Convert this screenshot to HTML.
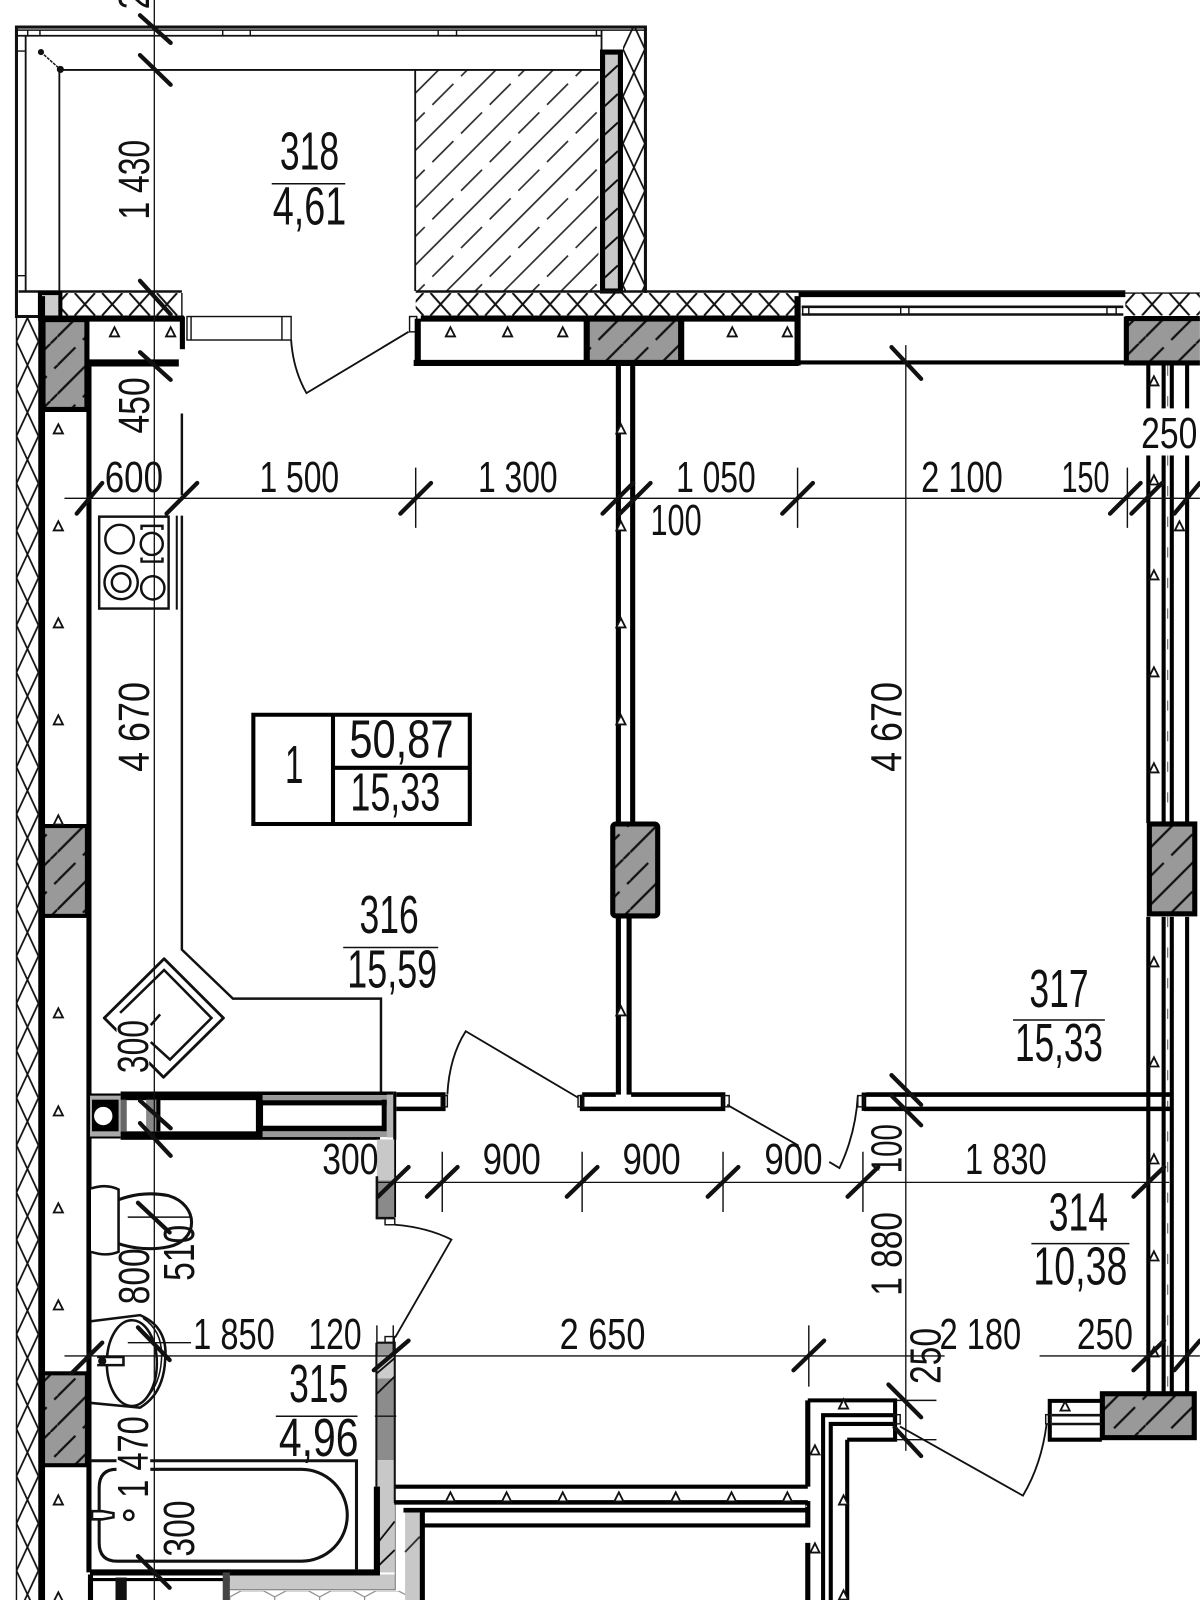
<!DOCTYPE html>
<html><head><meta charset="utf-8"><style>
html,body{margin:0;padding:0;background:#fff;width:1200px;height:1600px;overflow:hidden}
svg{display:block}
text{font-family:"Liberation Sans",sans-serif;fill:#111;text-anchor:middle}
.d{font-size:43px}
.r{font-size:53px}
.t{stroke:#111;stroke-width:4.2;stroke-linecap:round}
.f{stroke:#111;stroke-width:1.4;fill:none}
.m{stroke:#111;stroke-width:2.4;fill:none}
.hs{stroke:#333;stroke-width:1.7}
.hd{stroke:#333;stroke-width:1.7;stroke-dasharray:29.1 10.6}
</style></head><body>
<svg xmlns="http://www.w3.org/2000/svg" width="1200" height="1600" viewBox="0 0 1175 1567">
<defs>
<pattern id="xv" patternUnits="userSpaceOnUse" x="16" y="10.4" width="21.5" height="46.3"><path d="M0 0L21.5 46.3M21.5 0L0 46.3" stroke="#111" stroke-width="1.7"/></pattern>
<pattern id="xr" patternUnits="userSpaceOnUse" x="610" y="1.75" width="21.5" height="46.3"><path d="M0 0L21.5 46.3M21.5 0L0 46.3" stroke="#111" stroke-width="1.7"/></pattern>
<pattern id="xh" patternUnits="userSpaceOnUse" x="42.8" y="287" width="26.8" height="22"><path d="M3.500 0L23.300 22M23.300 0L3.500 22" stroke="#111" stroke-width="2"/></pattern>
<pattern id="hc" patternUnits="userSpaceOnUse" width="56.1" height="56.1"><rect width="56.1" height="56.1" fill="#999"/><path d="M0 49.3L49.3 0M49.3 56.1L56.1 49.3M-3 24.25L17.6 3.65M25 52.35L45.6 31.75M53 24.35L56.1 21.25" stroke="#111" stroke-width="2.2"/></pattern>
<pattern id="hex" patternUnits="userSpaceOnUse" x="225" y="1558" width="44" height="30"><path d="M0 6L11 0H33L44 6M11 0L0 -6M0 6V20M44 6V20" stroke="#777" stroke-width="1" fill="none"/></pattern>
<clipPath id="cb"><rect x="407" y="68.500" width="179" height="217"/></clipPath>
<g id="tri"><path d="M-4.500 4.500L0 -4.500L4.500 4.500Z" fill="#fff" stroke="#111" stroke-width="1.8"/></g>
</defs>
<rect width="1175" height="1567" fill="#fff"/>

<!-- hatching bands -->
<rect x="16" y="310" width="21.500" height="1257" fill="url(#xv)"/>
<rect x="610" y="27" width="21.500" height="259" fill="url(#xr)"/>
<rect x="44" y="287" width="134" height="22" fill="url(#xh)"/>
<rect x="407" y="287" width="375" height="22" fill="url(#xh)"/>
<rect x="1102" y="287" width="73" height="22" fill="url(#xh)"/>
<path d="M16 310V1567M38 310V1567" class="f"/>

<!-- balcony -->
<g clip-path="url(#cb)">
<path class="hs" d="M395.25 102.65L600 -102.1M395.25 158.75L600 -46M395.25 214.85L600 10.1M395.25 270.95L600 66.2M395.25 327.05L600 122.3M395.25 383.15L600 178.4M395.25 439.25L600 234.5"/>
<path class="hd" d="M395.25 130.75L600 -74M395.25 186.85L600 -17.9M395.25 242.95L600 38.2M395.25 299.05L600 94.3M395.25 355.15L600 150.4M395.25 411.25L600 206.5M395.25 467.35L600 262.6"/>
</g>
<path d="M632 287V26.500H16V310H38" fill="none" stroke="#111" stroke-width="3"/>
<path d="M16 29.500H632" class="f"/>
<path d="M632 30V286" class="f" style="stroke-width:2"/>
<path d="M16 35H25M25 35H589M25 35V285M589 29V50M406.500 68V285" class="f" style="stroke-width:1.8"/>
<path d="M27 29V35M39 29V35M218 29V35M245 29V35M429 29V35M447 29V35M584 29V35M16 50H25M16 270H25" class="f"/>
<path d="M59 68.500H589M58 68V285" class="f" style="stroke-width:1.8"/>
<path d="M40 51L59 68" class="f" stroke-dasharray="3 1"/>
<circle cx="40" cy="51" r="3" fill="#111"/><circle cx="59" cy="68" r="3.500" fill="#111"/>
<rect x="590" y="51" width="17.500" height="234" fill="#c8c8c8" stroke="#000" stroke-width="5"/>
<path d="M592 76L605 64M592 104L605 92M592 132L605 120M592 160L605 148M592 188L605 176M592 216L605 204M592 244L605 232M592 272L605 260" stroke="#111" stroke-width="2"/>
<path d="M18 285.500H178M407 285.500H1102" stroke="#111" stroke-width="2.500"/>
<path d="M178 287V310M1102 287H1175" class="f"/>
<rect x="39" y="287" width="20" height="25" fill="#ccc" stroke="#000" stroke-width="4"/>

<!-- top wall left -->
<path d="M38 312H180" stroke="#000" stroke-width="6"/>
<path d="M178.500 310V342" stroke="#000" stroke-width="5"/>
<path d="M87 355.500H175" stroke="#000" stroke-width="7"/>
<use href="#tri" x="112" y="325"/><use href="#tri" x="167" y="325"/>
<rect x="183" y="310" width="102" height="23" fill="#fff" class="f"/>
<path d="M187 310V333M276 310V333" class="f"/>
<path d="M285 333Q287 362 300 385L400 325" class="m" style="stroke-width:1.8"/>
<rect x="401" y="310" width="7" height="15" fill="#fff" class="f"/>

<!-- top block -->
<rect x="576" y="314" width="91" height="39" fill="url(#hc)"/>
<path d="M412 312H782M409 312V355M405 355.500H782M781 290V358M574.500 312V355M667 312V355" stroke="#000" stroke-width="6" fill="none"/>
<use href="#tri" x="441" y="325"/><use href="#tri" x="497" y="325"/><use href="#tri" x="551" y="325"/><use href="#tri" x="717" y="325"/><use href="#tri" x="771" y="325"/>

<!-- window -->
<path d="M782 288.500H1102" stroke="#000" stroke-width="5"/>
<path d="M785 300.500H1100M785 308H1100" stroke="#111" stroke-width="2.500"/>
<path d="M783 355H1102" stroke="#000" stroke-width="4"/>
<path d="M786 301V308M792 301V308M882 301V308M890 301V308M1084 301V308M1093 301V308" class="f"/>
<rect x="1102" y="312" width="73" height="44" fill="url(#hc)"/>
<path d="M1102 312H1175M1103 310V358M1102 355.500H1175" stroke="#000" stroke-width="5" fill="none"/>

<!-- left wall -->
<path d="M41 290V1567" stroke="#000" stroke-width="6"/>
<path d="M87 358V1540" stroke="#000" stroke-width="5"/>
<rect x="42" y="313" width="43" height="88" fill="url(#hc)" stroke="#000" stroke-width="5"/>
<rect x="42" y="809" width="43" height="88" fill="url(#hc)" stroke="#000" stroke-width="4"/>
<rect x="42" y="1345" width="43" height="90" fill="url(#hc)" stroke="#000" stroke-width="4"/>
<use href="#tri" x="57" y="420"/><use href="#tri" x="57" y="515"/><use href="#tri" x="57" y="610"/><use href="#tri" x="57" y="705"/><use href="#tri" x="57" y="803"/><use href="#tri" x="57" y="992"/><use href="#tri" x="57" y="1088"/><use href="#tri" x="57" y="1183"/><use href="#tri" x="57" y="1278"/><use href="#tri" x="57" y="1469"/><use href="#tri" x="57" y="1564"/>

<!-- partition -->
<path d="M605.500 358V806M619.500 358V806" stroke="#000" stroke-width="5"/>
<rect x="600" y="807" width="44" height="90" rx="3" fill="url(#hc)" stroke="#000" stroke-width="5"/>
<path d="M605.500 897V1072M616 897V1072" stroke="#000" stroke-width="5"/>
<use href="#tri" x="608" y="420"/><use href="#tri" x="608" y="515"/><use href="#tri" x="608" y="610"/><use href="#tri" x="608" y="705"/><use href="#tri" x="608" y="990"/>
<path d="M570 1072H603M618 1072H708V1086H570V1072" stroke="#000" stroke-width="4.500" fill="none"/>
<rect x="566" y="1073" width="5" height="11" fill="#fff" class="f"/><rect x="708" y="1073" width="6" height="11" fill="#fff" class="f"/>

<!-- right wall -->
<path d="M1124.500 358V400M1139.500 358V400M1147.500 358V400M1162.500 358V400M1124.500 446V806M1139.500 446V806M1147.500 446V806M1162.500 446V806M1124.500 898V1365M1139.500 898V1365M1147.500 898V1365M1162.500 898V1365" stroke="#000" stroke-width="4" fill="none"/>
<path d="M1143.500 358V400M1143.500 446V806M1143.500 898V1365" stroke="#555" stroke-width="1" stroke-dasharray="10 20"/>
<rect x="1125.500" y="807" width="44.500" height="88" fill="url(#hc)" stroke="#000" stroke-width="5"/>
<use href="#tri" x="1130" y="373"/><use href="#tri" x="1130" y="470"/><use href="#tri" x="1130" y="563"/><use href="#tri" x="1130" y="658"/><use href="#tri" x="1130" y="752"/><use href="#tri" x="1130" y="942"/><use href="#tri" x="1130" y="1040"/><use href="#tri" x="1130" y="1135"/><use href="#tri" x="1130" y="1230"/><use href="#tri" x="1130" y="1324"/><use href="#tri" x="1155" y="515"/>
<rect x="1079.500" y="1365" width="90" height="43" fill="url(#hc)" stroke="#000" stroke-width="5"/>
<path d="M1079 1372H1028V1410H1079" stroke="#000" stroke-width="4" fill="none"/>
<path d="M1030 1386H1079M1030 1394.600H1079" stroke="#111" stroke-width="2.500"/>
<use href="#tri" x="1043" y="1377"/>

<!-- kitchen counter -->
<path d="M178 405V485M178 505V930L228 978H373V1070" class="m"/>
<path d="M173 505V597" class="m" style="stroke-width:2"/>
<rect x="97" y="506" width="68" height="90" class="m"/>
<circle cx="117" cy="528" r="14" class="m"/><circle cx="118.500" cy="570.500" r="16.300" class="m"/><circle cx="118.500" cy="570.500" r="9.100" class="m"/><circle cx="149.500" cy="575.700" r="11.400" class="m"/>
<circle cx="148.500" cy="532.700" r="10.800" class="m"/><path d="M138.500 519V515H159V519M138.500 546V550H159V546" class="m"/>
<path d="M160.600 939L218.700 997L160 1055L102 997Z" fill="none" stroke="#111" stroke-width="2.800" stroke-linejoin="round"/>
<path d="M117.500 992L160.600 950L207 997L166.400 1037.700L147.500 1020.600M147.500 1004L156.700 993.500" fill="none" stroke="#111" stroke-width="2.500"/>

<!-- shaft block -->
<rect x="88" y="1072" width="30" height="42" fill="#aaa"/>
<rect x="90" y="1077" width="26" height="31" fill="#000"/><circle cx="101" cy="1093" r="9" fill="#fff"/>
<rect x="118" y="1069" width="139" height="8.500" fill="#000"/>
<rect x="118" y="1108" width="139" height="8.300" fill="#000"/>
<rect x="118" y="1077" width="6" height="31" fill="#666"/>
<rect x="143" y="1077" width="11" height="31" fill="#888"/>
<path d="M155 1077V1108" stroke="#000" stroke-width="4"/>
<rect x="250.500" y="1069" width="7" height="47" fill="#000"/>
<rect x="257" y="1069" width="128" height="3.500" fill="#000"/>
<rect x="257" y="1072.500" width="122" height="5" fill="#999"/>
<rect x="257" y="1077.500" width="122" height="5.100" fill="#000"/>
<rect x="257" y="1102.500" width="117" height="5.500" fill="#000"/>
<rect x="257" y="1108" width="122" height="5.600" fill="#999"/>
<rect x="257" y="1113.600" width="115" height="2.700" fill="#000"/>
<rect x="373.700" y="1077" width="5" height="31" fill="#000"/>
<rect x="378.700" y="1072" width="6.300" height="42" fill="#b5b5b5"/>
<rect x="385" y="1069" width="3" height="47" fill="#000"/>
<path d="M88 1072H118M88 1114H118" stroke="#000" stroke-width="2"/>
<path d="M386.500 1116V1192" stroke="#000" stroke-width="2.500"/>
<path d="M388 1072H434V1086H388" stroke="#000" stroke-width="4.500" fill="none"/>
<rect x="432" y="1073" width="6" height="11" fill="#fff" class="f"/>
<path d="M438 1072Q440 1035 456 1010L566 1075" class="m" style="stroke-width:1.800"/>
<path d="M712 1082L782 1122M812 1138L822 1144Q838 1110 840 1073" class="m" style="stroke-width:1.800"/>
<path d="M848 1072H1148M846 1086H1148M846 1070V1088" stroke="#000" stroke-width="4.500" fill="none"/>
<rect x="840" y="1073" width="6" height="11" fill="#fff" class="f"/>
<rect x="369" y="1116" width="17" height="40" fill="#c8c8c8"/>
<rect x="369" y="1156" width="17" height="37" fill="#8a8a8a"/>
<path d="M369 1152V1193H386" stroke="#111" stroke-width="2.500" fill="none"/>
<rect x="377" y="1193" width="9.500" height="6.500" fill="#fff" class="f"/>
<path d="M386.800 1199.500Q418 1202 442 1214L386.800 1310" class="m" style="stroke-width:1.800"/>

<!-- lower wall near 315 -->
<rect x="369" y="1315" width="17.500" height="12" fill="#999"/>
<rect x="369" y="1327" width="17.500" height="23" fill="#ccc"/>
<rect x="369" y="1350" width="17.500" height="80" fill="#8c8c8c"/>
<rect x="369" y="1430" width="17.500" height="110" fill="#c8c8c8"/>
<path d="M369 1365L386.500 1348M369 1345L386.500 1330M369 1512L386.500 1490M369 1535L386.500 1518" stroke="#111" stroke-width="1.800"/>
<path d="M368.500 1315H386.500V1472M368.500 1315V1456" stroke="#111" stroke-width="2" fill="none"/>
<rect x="377" y="1309" width="9" height="6" fill="#fff" class="f"/>
<!-- bottom fill -->
<rect x="225" y="1542" width="162" height="15" fill="#c8c8c8"/>
<path d="M225 1557H387V1472" stroke="#777" stroke-width="1" fill="none"/>
<rect x="225" y="1558" width="172" height="9" fill="url(#hex)"/>
<rect x="396.600" y="1481" width="14.400" height="86" fill="#c8c8c8"/>
<path d="M396.600 1520L411 1505" stroke="#333" stroke-width="1.800"/>
<path d="M387 1456H791M791 1371.500H876.500V1410H829.600M806 1567V1386H876.500M813.500 1567V1394.600H876.500M829.600 1567V1410" stroke="#000" stroke-width="4" fill="none"/>
<path d="M791 1371.500V1456M791 1470V1496M791 1511V1567" stroke="#000" stroke-width="5"/>
<path d="M386 1471.400H791" stroke="#000" stroke-width="4.500"/>
<path d="M395 1479H791" stroke="#000" stroke-width="4.500"/>
<path d="M390 1475.200H790" stroke="#fff" stroke-width="1.500" stroke-dasharray="16 5"/>
<path d="M413.500 1494H791" stroke="#000" stroke-width="4"/>
<path d="M413.500 1479V1567" stroke="#000" stroke-width="5"/>
<use href="#tri" x="826" y="1375"/><use href="#tri" x="798" y="1420"/><use href="#tri" x="826" y="1469"/><use href="#tri" x="798" y="1516"/><use href="#tri" x="826" y="1562"/>
<use href="#tri" x="441" y="1466"/><use href="#tri" x="496" y="1466"/><use href="#tri" x="551" y="1466"/><use href="#tri" x="606" y="1466"/><use href="#tri" x="661.700" y="1466"/><use href="#tri" x="716.300" y="1466"/><use href="#tri" x="771" y="1466"/>
<rect x="875" y="1385.500" width="6.500" height="9" fill="#fff" class="f"/>
<path d="M881.200 1397L1001.700 1464.800Q1020 1434 1024.900 1394.400" class="m" style="stroke-width:1.800"/>
<rect x="1024" y="1385.500" width="5" height="9" fill="#fff" class="f"/>

<!-- bathroom -->
<path d="M88 1540H369V1456" stroke="#000" stroke-width="6" fill="none"/>
<path d="M88 1430.600H349V1537" class="m" style="stroke-width:3"/>
<path d="M114 1439Q97 1439 97 1457V1511Q97 1529 115 1529H295A45 45 0 0 0 295 1439H147" fill="none" stroke="#111" stroke-width="3"/>
<rect x="114" y="1425" width="33" height="20" fill="#fff"/>
<circle cx="126" cy="1484" r="4.500" fill="none" stroke="#111" stroke-width="2.500"/>
<path d="M90 1480H100L111 1482V1486L100 1488H90Z" fill="#fff" stroke="#111" stroke-width="2.500"/>
<path d="M88 1547H225" stroke="#000" stroke-width="3"/>
<path d="M88.500 1542V1567" stroke="#000" stroke-width="5"/>
<rect x="113" y="1545" width="11" height="22" fill="#111"/>
<rect x="218" y="1540" width="7" height="27" fill="#444"/>
<path d="M89 1164Q104 1159 116 1165V1226Q104 1231 89 1226" fill="#fff" stroke="#111" stroke-width="2.500"/>
<path d="M116 1175Q140 1166 165 1171C195 1180 195 1215 165 1221Q140 1226 116 1218" fill="none" stroke="#111" stroke-width="3"/>
<path d="M89 1294L137 1288Q165 1300 161.600 1332Q160 1365 137 1378.600L89 1374" fill="none" stroke="#111" stroke-width="2.500"/>
<path d="M140 1291Q160 1304 158 1332Q156 1362 135 1376" fill="none" stroke="#111" stroke-width="1.500"/>
<ellipse cx="129" cy="1335" rx="24.500" ry="42" fill="none" stroke="#111" stroke-width="2.500"/>
<path d="M95 1329H120.800V1337H95" fill="#fff" stroke="#111" stroke-width="2.500"/><circle cx="100" cy="1333" r="4" fill="#111"/>

<!-- dimension lines -->
<path d="M151 0V1567" stroke="#111" stroke-width="1.300"/>
<path d="M63 488H1175M368 1158H1145M63 1328H925M1018 1328H1175M887 338V1421" stroke="#111" stroke-width="1.300"/>
<path d="M407 458V517M781 458V517M1104 458V517M433 1128V1187M570 1128V1187M708 1128V1187M845 1128V1187M792 1298V1358M369 1298V1328M385 1298V1328M877 1371.500H917M877 1410H917M125 1192H187M125 1315H187M367 1387H388" class="f"/>
<g class="t">
<path d="M137 15L167 42M137 54L167 83M137 275L167 308M137 345L167 372M137 1078L167 1105M137 1100L167 1132M135 1178L166 1207M135 1300L166 1332M135 1524L166 1555"/>
<path d="M873 340L902 371M873 1053L902 1082M873 1073L902 1102M870 1356L902 1388M876 1398L902 1426"/>
<path d="M75 503L100 473M163 503L193 473M392 503L422 473M590 503L620 473M607 503L637 473M766 503L796 473M1087 503L1117 473M1108 503L1138 473M1150 503L1175 473"/>
<path d="M370 1172L400 1143M418 1172L448 1143M555 1172L585 1143M693 1172L723 1143M830 1172L860 1143M1110 1172L1140 1143"/>
<path d="M70 1345L100 1315M366 1342L400 1313M777 1342L807 1313M1110 1342L1140 1313M1150 1342L1175 1313"/>
</g>

<!-- white backing where labels sit on lines -->
<rect x="114" y="998" width="32" height="53" fill="#fff"/>
<rect x="116" y="1387" width="30" height="38" fill="#fff"/>
<rect x="116" y="1445" width="30" height="24" fill="#fff"/>
<rect x="1114" y="404" width="60" height="42" fill="#fff"/>

<!-- room labels -->
<path d="M266 180H338M336 928H429M992 999H1082M1010 1218H1106M270 1387H350" stroke="#111" stroke-width="1.500"/>
<text class="r" x="303" y="166" textLength="58" lengthAdjust="spacingAndGlyphs">318</text>
<text class="r" x="303" y="220" textLength="72" lengthAdjust="spacingAndGlyphs">4,61</text>
<text class="r" x="381" y="914" textLength="58" lengthAdjust="spacingAndGlyphs">316</text>
<text class="r" x="384" y="967" textLength="88" lengthAdjust="spacingAndGlyphs">15,59</text>
<text class="r" x="1037" y="986" textLength="58" lengthAdjust="spacingAndGlyphs">317</text>
<text class="r" x="1037" y="1039" textLength="86" lengthAdjust="spacingAndGlyphs">15,33</text>
<text class="r" x="1056" y="1205" textLength="58" lengthAdjust="spacingAndGlyphs">314</text>
<text class="r" x="1058" y="1258" textLength="92" lengthAdjust="spacingAndGlyphs">10,38</text>
<text class="r" x="312" y="1373" textLength="58" lengthAdjust="spacingAndGlyphs">315</text>
<text class="r" x="312" y="1426" textLength="78" lengthAdjust="spacingAndGlyphs">4,96</text>

<!-- area box -->
<path d="M248 700H460V807H248ZM326 700V807M326 752H460" fill="none" stroke="#000" stroke-width="4"/>
<text class="r" x="288" y="767" textLength="18" lengthAdjust="spacingAndGlyphs">1</text>
<text class="r" x="393" y="742" textLength="102" lengthAdjust="spacingAndGlyphs">50,87</text>
<text class="r" x="387" y="794" textLength="88" lengthAdjust="spacingAndGlyphs">15,33</text>

<!-- horizontal dims -->
<text class="d" x="131" y="482" textLength="57" lengthAdjust="spacingAndGlyphs">600</text>
<text class="d" x="293" y="482" textLength="78" lengthAdjust="spacingAndGlyphs">1 500</text>
<text class="d" x="507" y="482" textLength="78" lengthAdjust="spacingAndGlyphs">1 300</text>
<text class="d" x="701" y="482" textLength="78" lengthAdjust="spacingAndGlyphs">1 050</text>
<text class="d" x="662" y="524" textLength="50" lengthAdjust="spacingAndGlyphs">100</text>
<text class="d" x="942" y="482" textLength="80" lengthAdjust="spacingAndGlyphs">2 100</text>
<text class="d" x="1063" y="482" textLength="47" lengthAdjust="spacingAndGlyphs">150</text>
<text class="d" x="1145" y="439" textLength="55" lengthAdjust="spacingAndGlyphs">250</text>
<text class="d" x="343" y="1150" textLength="55" lengthAdjust="spacingAndGlyphs">300</text>
<text class="d" x="501" y="1150" textLength="57" lengthAdjust="spacingAndGlyphs">900</text>
<text class="d" x="638" y="1150" textLength="57" lengthAdjust="spacingAndGlyphs">900</text>
<text class="d" x="777" y="1150" textLength="57" lengthAdjust="spacingAndGlyphs">900</text>
<text class="d" x="985" y="1150" textLength="80" lengthAdjust="spacingAndGlyphs">1 830</text>
<text class="d" x="229" y="1321" textLength="80" lengthAdjust="spacingAndGlyphs">1 850</text>
<text class="d" x="328" y="1321" textLength="52" lengthAdjust="spacingAndGlyphs">120</text>
<text class="d" x="590" y="1321" textLength="84" lengthAdjust="spacingAndGlyphs">2 650</text>
<text class="d" x="960" y="1321" textLength="80" lengthAdjust="spacingAndGlyphs">2 180</text>
<text class="d" x="1082" y="1321" textLength="55" lengthAdjust="spacingAndGlyphs">250</text>

<!-- vertical dims -->
<text class="d" transform="translate(146,176) rotate(-90)" textLength="78" lengthAdjust="spacingAndGlyphs">1 430</text>
<text class="d" transform="translate(146,397) rotate(-90)" textLength="55" lengthAdjust="spacingAndGlyphs">450</text>
<text class="d" transform="translate(146,712) rotate(-90)" textLength="88" lengthAdjust="spacingAndGlyphs">4 670</text>
<text class="d" transform="translate(145,1025) rotate(-90)" textLength="52" lengthAdjust="spacingAndGlyphs">300</text>
<text class="d" transform="translate(146,1250) rotate(-90)" textLength="55" lengthAdjust="spacingAndGlyphs">800</text>
<text class="d" transform="translate(145,1427) rotate(-90)" textLength="80" lengthAdjust="spacingAndGlyphs">1 470</text>
<text class="d" transform="translate(190,1227) rotate(-90)" textLength="55" lengthAdjust="spacingAndGlyphs">510</text>
<text class="d" transform="translate(190,1497) rotate(-90)" textLength="55" lengthAdjust="spacingAndGlyphs">300</text>
<text class="d" transform="translate(883,712) rotate(-90)" textLength="88" lengthAdjust="spacingAndGlyphs">4 670</text>
<text class="d" transform="translate(883,1125) rotate(-90)" textLength="48" lengthAdjust="spacingAndGlyphs">100</text>
<text class="d" transform="translate(883,1228) rotate(-90)" textLength="82" lengthAdjust="spacingAndGlyphs">1 880</text>
<text class="d" transform="translate(921,1328) rotate(-90)" textLength="55" lengthAdjust="spacingAndGlyphs">250</text>
<text class="d" transform="translate(146,0) rotate(-90)" textLength="18" lengthAdjust="spacingAndGlyphs">2</text>
</svg>
</body></html>
